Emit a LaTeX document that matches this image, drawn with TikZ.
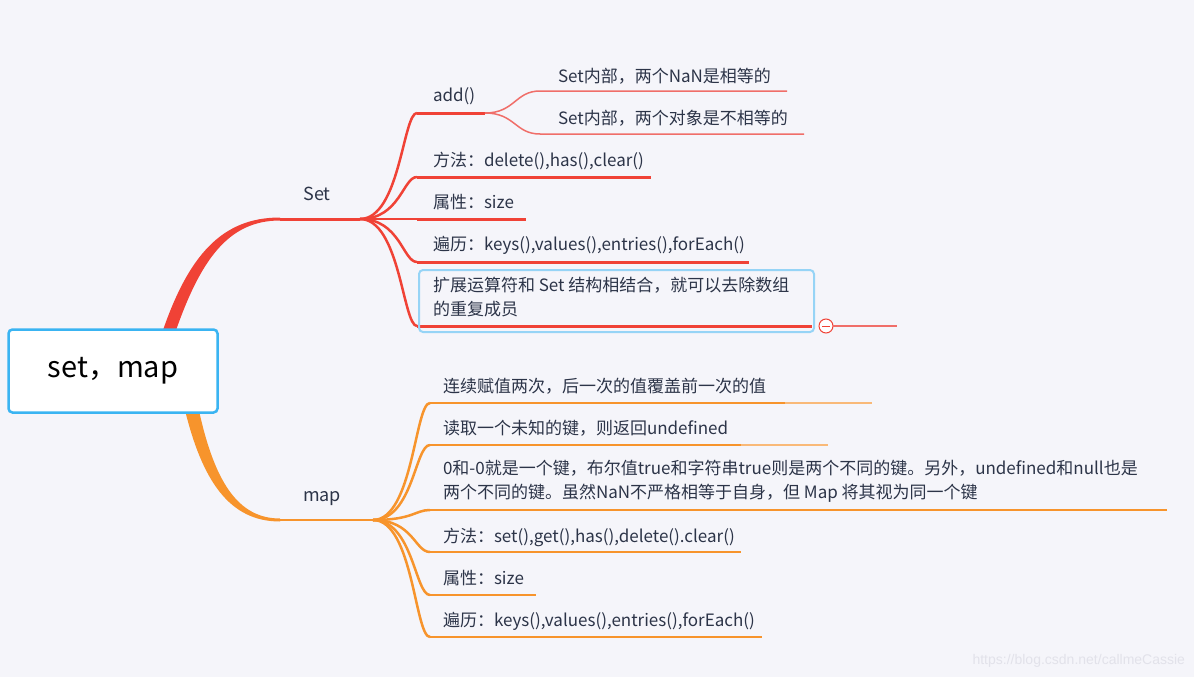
\documentclass[tikz,border=0pt]{standalone}
\usepackage{fontspec}
\setmainfont{Noto Sans CJK SC}
\newfontfamily\wmfont{Liberation Sans}
\definecolor{bgc}{RGB}{245,245,250}
\definecolor{textc}{RGB}{44,52,72}
\definecolor{redc}{RGB}{240,66,54}
\definecolor{redl}{RGB}{240,110,105}
\definecolor{orc}{RGB}{247,148,44}
\definecolor{orl}{RGB}{249,185,120}
\definecolor{rootb}{RGB}{58,180,242}
\definecolor{selc}{RGB}{150,212,246}
\definecolor{wmc}{RGB}{226,226,234}
\begin{document}
\begin{tikzpicture}[x=1pt,y=-1pt,
  every node/.style={inner sep=0pt, outer sep=0pt},
  txt/.style={anchor=base west, font=\fontsize{17}{23.5}\selectfont, text=textc, align=left},
  lbl/.style={anchor=base, font=\fontsize{18}{22}\selectfont, text=textc},
  setline/.style={draw=redc, line width=3pt},
  setsub/.style={draw=redl, line width=1.5pt},
  setbranch/.style={draw=redc, line width=2.5pt},
  mapline/.style={draw=orc, line width=2.5pt},
  maptail/.style={draw=orl, line width=1.2pt},
  settail/.style={draw=redl, line width=1.2pt}]
\useasboundingbox (0,0) rectangle (1194,677);
\fill[bgc] (0,0) rectangle (1194,677);

% ---------- trunks ----------
\coordinate (setstart) at (167,336);
\coordinate (setend) at (280,219);
\coordinate (sethub) at (360,219);
\coordinate (mapstart) at (191,406);
\coordinate (mapend) at (280,520);
\coordinate (maphub) at (373,520);

\fill[redc] (161,336) .. controls (188,255) and (222,217.5) .. (280,217.5)
  -- (280,220.5) .. controls (228,220.5) and (200,260) .. (174,336) -- cycle;
\draw[setline] (setend) -- (sethub);
\fill[orc] (184,406) .. controls (202,482) and (230,521.5) .. (280,521.5)
  -- (280,518.5) .. controls (238,518.5) and (214,482) .. (198,406) -- cycle;
\draw[mapline] (mapend) -- (maphub);

% ---------- root ----------
\node[draw=rootb, line width=2.5pt, fill=white, rounded corners=4pt,
  minimum width=209pt, minimum height=83pt,
  font=\fontsize{29}{33}\selectfont, text=black] (root) at (113,371) {set，map};

% ---------- branch labels ----------
\node[lbl] (setlbl) at (317,200) {Set};
\node[lbl] (maplbl) at (322,501) {map};

% ---------- Set children ----------
\foreach \n/\y/\xe in {a/113/485, b/177/651, c/219/526, d/262/749, e/326/812}{
  \coordinate (s\n s) at (417,\y);
  \coordinate (s\n e) at (\xe,\y);
  \draw[setbranch] (sethub) .. controls +(40,0) and +(-14,0) .. (s\n s);
  \draw[setline] (s\n s) -- (s\n e);
}
\node[txt] (sa) at (433,101) {add()};
\node[txt] (sb) at (433,166) {方法：delete(),has(),clear()};
\node[txt] (sc) at (433,208) {属性：size};
\node[txt] (sd) at (433,250) {遍历：keys(),values(),entries(),forEach()};
\node[txt] (se) at (433,315) {扩展运算符和 Set 结构相结合，就可以去除数组\\的重复成员};

% selection frame
\draw[selc, line width=2pt, rounded corners=4pt] (419,270) rectangle (814,332);

% fold marker
\node[circle, draw=redc, fill=white, line width=1pt, minimum size=14pt] (fold) at (826,326) {};
\draw[redc, line width=1pt] ([xshift=-4pt]fold.center) -- ([xshift=4pt]fold.center);
\coordinate (foldtail) at (897,326);
\draw[settail] (fold.east) -- (foldtail);

% add() children
\coordinate (aa s) at (540,91);
\coordinate (aa e) at (787,91);
\coordinate (ab s) at (540,134);
\coordinate (ab e) at (804,134);
\draw[setsub] (sae) .. controls +(30,0) and +(-25,0) .. (aa s) -- (aa e);
\draw[setsub] (sae) .. controls +(30,0) and +(-25,0) .. (ab s) -- (ab e);
\node[txt] (saa) at (558,82) {Set内部，两个NaN是相等的};
\node[txt] (sab) at (558,124) {Set内部，两个对象是不相等的};

% ---------- map children ----------
\foreach \n/\y/\xe in {a/403/785, b/445/741, c/510/1167, d/552/741, e/595/536, f/637/762}{
  \coordinate (m\n s) at (430,\y);
  \coordinate (m\n e) at (\xe,\y);
  \draw[mapline] (maphub) .. controls +(40,0) and +(-15,0) .. (m\n s);
  \draw[mapline] (m\n s) -- (m\n e);
}
\coordinate (mat) at (872,403);
\coordinate (mbt) at (828,445);
\draw[maptail] (mae) -- (mat);
\draw[maptail] (mbe) -- (mbt);

\node[txt] (ma) at (443,392) {连续赋值两次，后一次的值覆盖前一次的值};
\node[txt] (mb) at (443,434) {读取一个未知的键，则返回undefined};
\node[txt] (mc) at (443,498) {0和-0就是一个键，布尔值true和字符串true则是两个不同的键。另外，undefined和null也是\\两个不同的键。虽然NaN不严格相等于自身，但 Map 将其视为同一个键};
\node[txt] (md) at (443,542) {方法：set(),get(),has(),delete().clear()};
\node[txt] (me) at (443,584) {属性：size};
\node[txt] (mf) at (443,626) {遍历：keys(),values(),entries(),forEach()};

% watermark
\node[anchor=base east, font=\wmfont\fontsize{14}{16}\selectfont, text=wmc] (wm) at (1185,664) {https://blog.csdn.net/callmeCassie};
\end{tikzpicture}
\end{document}
